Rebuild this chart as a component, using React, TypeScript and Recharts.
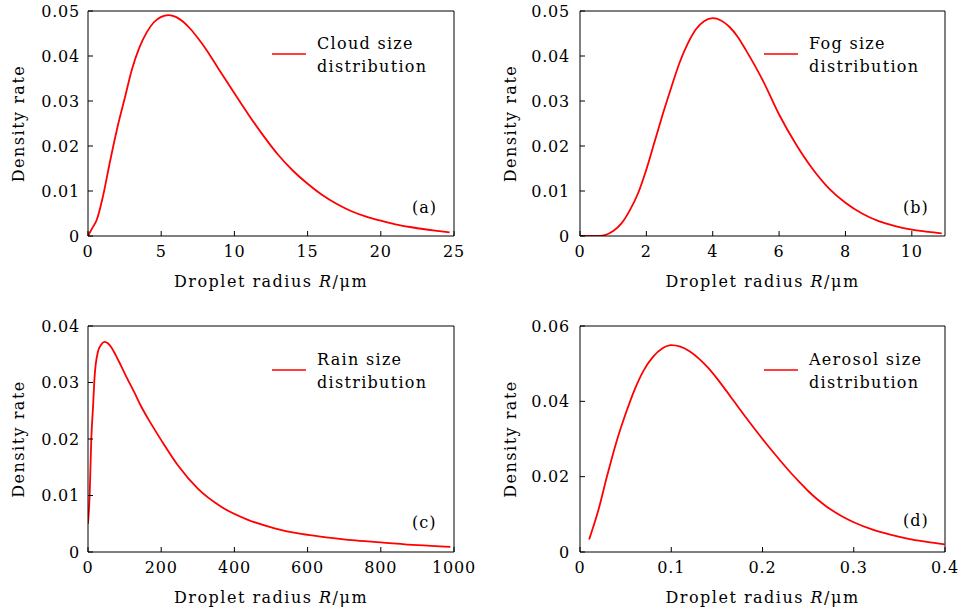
import React from 'react';
import { LineChart, Line, XAxis, YAxis, Legend, CartesianGrid } from 'recharts';

const cloudRadius = [0, 0.3, 0.6, 1, 1.5, 2, 2.5, 3, 3.5, 4, 4.5, 5, 5.5, 6, 6.5, 7, 7.5, 8, 9, 10, 11, 12, 13, 14, 15, 16, 17, 18, 19, 20, 21, 22, 23, 24, 24.7];
const cloudDensity = [0, 0.0018, 0.0036, 0.0085, 0.0165, 0.024, 0.0305, 0.037, 0.0418, 0.0452, 0.0475, 0.0487, 0.0491, 0.0487, 0.0476, 0.046, 0.044, 0.0418, 0.0367, 0.0317, 0.0268, 0.0222, 0.018, 0.0145, 0.0116, 0.0091, 0.0071, 0.0055, 0.0043, 0.0034, 0.0026, 0.002, 0.0015, 0.0011, 0.0008];

const fogRadius = [0, 0.5, 0.75, 1, 1.25, 1.5, 1.75, 2, 2.25, 2.5, 2.75, 3, 3.25, 3.5, 3.75, 4, 4.25, 4.5, 4.75, 5, 5.5, 6, 6.5, 7, 7.5, 8, 8.5, 9, 9.5, 10, 10.5, 10.9];
const fogDensity = [0, 0, 0.0002, 0.0011, 0.0028, 0.0057, 0.0095, 0.0148, 0.021, 0.0272, 0.033, 0.0385, 0.0428, 0.046, 0.0478, 0.0484, 0.0479, 0.0465, 0.0443, 0.0413, 0.0347, 0.027, 0.0205, 0.015, 0.0106, 0.0074, 0.005, 0.0033, 0.0022, 0.0014, 0.0009, 0.0006];

const rainRadius = [0, 4.5, 9, 14, 18, 27, 36, 45, 55, 64, 76, 90, 108, 127, 145, 164, 200, 246, 300, 364, 437, 510, 583, 651, 720, 800, 900, 990];
const rainDensity = [0.005, 0.01, 0.02, 0.026, 0.031, 0.0354, 0.0367, 0.0372, 0.0369, 0.0362, 0.0348, 0.033, 0.0306, 0.0282, 0.0258, 0.0236, 0.0198, 0.0153, 0.0112, 0.008, 0.0057, 0.0042, 0.0032, 0.0026, 0.0021, 0.0017, 0.0012, 0.0009];

const aerosolRadius = [0.01, 0.02, 0.03, 0.04, 0.05, 0.06, 0.07, 0.08, 0.09, 0.1, 0.11, 0.12, 0.13, 0.14, 0.15, 0.16, 0.17, 0.18, 0.19, 0.2, 0.21, 0.22, 0.23, 0.24, 0.25, 0.26, 0.27, 0.28, 0.29, 0.3, 0.32, 0.34, 0.36, 0.38, 0.4];
const aerosolDensity = [0.0033, 0.011, 0.0205, 0.0293, 0.0367, 0.0432, 0.0483, 0.0518, 0.054, 0.0549, 0.0545, 0.0533, 0.0514, 0.049, 0.0461, 0.0429, 0.0396, 0.0363, 0.0331, 0.03, 0.027, 0.0241, 0.0213, 0.0187, 0.0162, 0.014, 0.0121, 0.0105, 0.0091, 0.0079, 0.006, 0.0046, 0.0035, 0.0027, 0.002];

const cloudXTicks = [0, 5, 10, 15, 20, 25];
const fogXTicks = [0, 2, 4, 6, 8, 10];
const rainXTicks = [0, 200, 400, 600, 800, 1000];
const aerosolXTicks = [0, 0.1, 0.2, 0.3, 0.4];
const smallYTicks = [0, 0.01, 0.02, 0.03, 0.04, 0.05];
const rainYTicks = [0, 0.01, 0.02, 0.03, 0.04];
const aerosolYTicks = [0, 0.02, 0.04, 0.06];

const legendNames = ['Cloud size', 'Fog size', 'Rain size', 'Aerosol size'];
const panelTags = ['(a)', '(b)', '(c)', '(d)'];

const FONT = '"DejaVu Serif", serif';
const RED = '#ff0000';

const toRows = (xs: number[], ys: number[]) => xs.map((r, i) => ({ r, d: ys[i] }));

type Panel = {
  rows: { r: number; d: number }[];
  xDomain: [number, number];
  yDomain: [number, number];
  xTicks: number[];
  yTicks: number[];
  name: string;
  tag: string;
  left: number;
  top: number;
  width: number;
  height: number;
  marginTop: number;
  marginRight: number;
  xAxisHeight: number;
  yTickMargin: number;
  tagLeft: number;
  tagTop: number;
  legendTop: number;
};

const panels: Panel[] = [
  {
    rows: toRows(cloudRadius, cloudDensity), xDomain: [0, 25], yDomain: [0, 0.05],
    xTicks: cloudXTicks, yTicks: smallYTicks, name: legendNames[0], tag: panelTags[0],
    left: 0, top: 0, width: 480, height: 300, marginTop: 11, marginRight: 26, xAxisHeight: 64,
    yTickMargin: 13, tagLeft: 412, tagTop: 197, legendTop: 33,
  },
  {
    rows: toRows(fogRadius, fogDensity), xDomain: [0, 11], yDomain: [0, 0.05],
    xTicks: fogXTicks, yTicks: smallYTicks, name: legendNames[1], tag: panelTags[1],
    left: 492, top: 0, width: 470, height: 300, marginTop: 11, marginRight: 17, xAxisHeight: 64,
    yTickMargin: 15, tagLeft: 411, tagTop: 197, legendTop: 33,
  },
  {
    rows: toRows(rainRadius, rainDensity), xDomain: [0, 1000], yDomain: [0, 0.04],
    xTicks: rainXTicks, yTicks: rainYTicks, name: legendNames[2], tag: panelTags[2],
    left: 0, top: 310, width: 480, height: 305, marginTop: 16, marginRight: 26, xAxisHeight: 63,
    yTickMargin: 13, tagLeft: 412, tagTop: 202, legendTop: 39,
  },
  {
    rows: toRows(aerosolRadius, aerosolDensity), xDomain: [0, 0.4], yDomain: [0, 0.06],
    xTicks: aerosolXTicks, yTicks: aerosolYTicks, name: legendNames[3], tag: panelTags[3],
    left: 492, top: 310, width: 470, height: 305, marginTop: 16, marginRight: 17, xAxisHeight: 63,
    yTickMargin: 15, tagLeft: 411, tagTop: 200, legendTop: 39,
  },
];

const tickStyle = { fontFamily: FONT, fontSize: 16, fill: '#000', letterSpacing: 0.8 };

const XLabel = (props: any) => {
  const vb = props.viewBox || {};
  return (
    <text x={vb.x + vb.width / 2} y={vb.y + 51} textAnchor="middle" fontFamily={FONT} fontSize={16} letterSpacing={1.5} fill="#000">
      Droplet radius <tspan fontStyle="italic">R</tspan>/μm
    </text>
  );
};

const YLabel = (props: any) => {
  const vb = props.viewBox || {};
  const lx = vb.x + 24;
  const cy = vb.y + vb.height / 2;
  return (
    <text x={lx} y={cy} transform={`rotate(-90, ${lx}, ${cy})`} textAnchor="middle" fontFamily={FONT} fontSize={16} letterSpacing={1.5} fill="#000">
      Density rate
    </text>
  );
};

const LegendBox = ({ name }: { name: string }) => (
  <div style={{ position: 'relative', width: 170, height: 46, fontFamily: FONT, fontSize: 16, letterSpacing: 1.3, lineHeight: '22.5px', color: '#000' }}>
    <svg width={34} height={4} style={{ position: 'absolute', left: 0, top: 18.5, display: 'block' }}>
      <line x1={0} y1={2} x2={34} y2={2} stroke={RED} strokeWidth={1.6} />
    </svg>
    <div style={{ position: 'absolute', left: 45, top: 0, whiteSpace: 'nowrap' }}>
      <div>{name}</div>
      <div>distribution</div>
    </div>
  </div>
);

const PanelChart = ({ p }: { p: Panel }) => (
  <div style={{ position: 'absolute', left: p.left, top: p.top, width: p.width, height: p.height }}>
    <LineChart
      width={p.width}
      height={p.height}
      data={p.rows}
      margin={{ top: p.marginTop, right: p.marginRight, bottom: 0, left: 0 }}
    >
      <CartesianGrid
        horizontalValues={[p.yDomain[1]]}
        verticalValues={[p.xDomain[1]]}
        stroke="#000"
        strokeWidth={1}
        syncWithTicks={false}
      />
      <XAxis
        dataKey="r"
        type="number"
        domain={p.xDomain}
        ticks={p.xTicks}
        interval={0}
        height={p.xAxisHeight}
        tickSize={-5}
        tickMargin={15}
        tick={tickStyle}
        axisLine={{ stroke: '#000' }}
        tickLine={{ stroke: '#000' }}
        label={<XLabel />}
        allowDataOverflow
      />
      <YAxis
        type="number"
        domain={p.yDomain}
        ticks={p.yTicks}
        interval={0}
        width={88}
        tickSize={-5}
        tickMargin={p.yTickMargin}
        tick={tickStyle}
        axisLine={{ stroke: '#000' }}
        tickLine={{ stroke: '#000' }}
        label={<YLabel />}
        allowDataOverflow
      />
      <Legend
        layout="horizontal"
        verticalAlign="middle"
        align="center"
        content={() => <LegendBox name={p.name} />}
        wrapperStyle={{ position: 'absolute', left: 272, top: p.legendTop, width: 170, height: 46 }}
      />
      <Line
        type="monotone"
        dataKey="d"
        name={p.name}
        stroke={RED}
        strokeWidth={1.8}
        dot={false}
        isAnimationActive={false}
      />
    </LineChart>
    <div style={{ position: 'absolute', left: p.tagLeft, top: p.tagTop, fontFamily: FONT, fontSize: 16, letterSpacing: 1, lineHeight: '22px', color: '#000' }}>
      {p.tag}
    </div>
  </div>
);

export default function App() {
  return (
    <div style={{ position: 'absolute', left: 0, top: 0, width: 962, height: 615, background: '#fff' }}>
      {panels.map((p) => (
        <PanelChart key={p.tag} p={p} />
      ))}
    </div>
  );
}
